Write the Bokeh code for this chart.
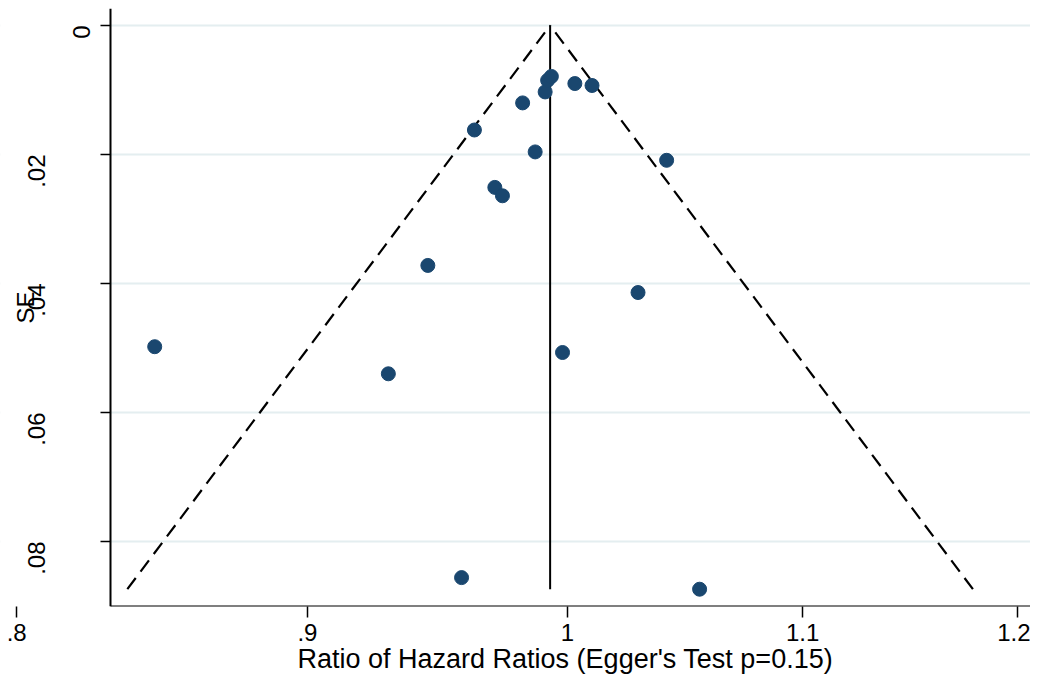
import numpy as np
from bokeh.plotting import figure
from bokeh.models import (Range1d, FixedTicker, CustomJSTickFormatter, LinearAxis,
                          LogAxis, BoxAnnotation, ColumnDataSource, Title)
from bokeh.embed import file_html
from bokeh.resources import INLINE

# --- data ---
ratio_hr = [0.846, 0.930, 0.945, 0.958, 0.963, 0.971, 0.974, 0.982, 0.987,
            0.991, 0.992, 0.9935, 0.998, 1.003, 1.010, 1.029, 1.041, 1.055]
se = [0.0498, 0.0540, 0.0372, 0.0856, 0.0162, 0.0251, 0.0264, 0.0120, 0.0196,
      0.0103, 0.0085, 0.0079, 0.0507, 0.0090, 0.0093, 0.0414, 0.0209, 0.0874]
pooled = 0.993
x_ticks = [0.8, 0.9, 1.0, 1.1, 1.2]
y_ticks = [0, 0.02, 0.04, 0.06, 0.08]
x_title = "Ratio of Hazard Ratios (Egger's Test p=0.15)"
y_title = "SE"

FONT = "Liberation Sans"
NAVY = "#1a476f"

# plotted region
X_LO, X_HI = 0.79476, 1.20636      # whole frame (log axis)
X_AXIS_AT = 0.8310                 # where the y axis stands
Y_LO, Y_HI = 0.09008, -0.002636    # reversed SE axis

se_max = max(se)
lower = float(np.exp(np.log(pooled) - 1.96 * se_max))
upper = float(np.exp(np.log(pooled) + 1.96 * se_max))

p = figure(width=1030, height=684, output_backend="svg", toolbar_location=None,
           x_axis_type="log", y_axis_location=None,
           x_range=Range1d(X_LO, X_HI), y_range=Range1d(Y_LO, Y_HI),
           min_border_left=0, min_border_right=0, min_border_top=8,
           min_border_bottom=78)
p.outline_line_color = None
p.background_fill_color = "white"
p.border_fill_color = "white"

# grid
p.xgrid.visible = False
p.ygrid.ticker = FixedTicker(ticks=y_ticks)
p.ygrid.grid_line_color = "#e4eef0"
p.ygrid.grid_line_width = 2
# keep grid lines to the right of the y axis
p.add_layout(BoxAnnotation(right=X_AXIS_AT, level="underlay", fill_color="white",
                           fill_alpha=1, line_color=None))

# funnel limits
p.line([lower, pooled], [se_max, 0], line_color="black", line_width=2.2, line_dash="14 8")
p.line([upper, pooled], [se_max, 0], line_color="black", line_width=2.2, line_dash="14 8")
p.line([pooled, pooled], [0, se_max], line_color="black", line_width=2)

# studies
src = ColumnDataSource(dict(x=ratio_hr, y=se))
p.scatter("x", "y", source=src, size=14, fill_color=NAVY, line_color=NAVY)

# x axis: ticks & labels (line drawn separately from the y axis onwards)
xa = p.xaxis[0]
xa.ticker = FixedTicker(ticks=x_ticks)
xa.formatter = CustomJSTickFormatter(code="""
    let s = tick.toFixed(1);
    if (s.endsWith('.0')) s = s.slice(0, -2);
    if (s.startsWith('0.')) s = s.slice(1);
    return s;
""")
xa.major_label_text_font = FONT
xa.major_label_text_font_size = "24px"
xa.major_label_standoff = 6
xa.major_tick_out = 11
xa.major_tick_in = 0
xa.minor_tick_out = 0
xa.minor_tick_in = 0
xa.axis_line_color = None
xa.major_tick_line_width = 1.5
xa.major_tick_line_color = "black"
xa.major_label_text_color = "black"

# x axis line, spanning only the part right of the y axis
xline = LogAxis(fixed_location=Y_LO, bounds=(X_AXIS_AT, X_HI),
                ticker=FixedTicker(ticks=[]), axis_line_width=2,
                axis_line_color="black", major_tick_line_color=None,
                minor_tick_line_color=None, major_tick_out=0, minor_tick_out=0,
                major_label_text_font_size="0px")
p.add_layout(xline, "below")

# x axis title, centred under the drawn axis
p.add_layout(Title(text=x_title, align="left", offset=297, vertical_align="top",
                   standoff=0, text_font=FONT, text_font_style="normal",
                   text_font_size="27px", text_color="black"), "below")

# y axis standing at X_AXIS_AT
ya = LinearAxis(fixed_location=X_AXIS_AT)
ya.ticker = FixedTicker(ticks=y_ticks)
ya.formatter = CustomJSTickFormatter(code="""
    if (tick == 0) return '';
    let s = tick.toFixed(2);
    if (s.startsWith('0.')) s = s.slice(1);
    return s;
""")
ya.major_label_orientation = np.pi / 2
ya.axis_label = y_title
ya.axis_label_text_font = FONT
ya.axis_label_text_font_style = "normal"
ya.axis_label_text_font_size = "24px"
ya.axis_label_standoff = -22
ya.major_label_text_font = FONT
ya.major_label_text_font_size = "24px"
ya.major_label_standoff = 64
ya.major_tick_out = 10
ya.major_tick_in = 0
ya.minor_tick_out = 0
ya.minor_tick_in = 0
ya.axis_line_width = 2
ya.major_tick_line_width = 1.5
ya.axis_line_color = "black"
ya.major_tick_line_color = "black"
ya.major_label_text_color = "black"
ya.axis_label_text_color = "black"
p.add_layout(ya, "left")

# the "0" label sits closer to the axis in the reference
ya0 = LinearAxis(fixed_location=X_AXIS_AT)
ya0.ticker = FixedTicker(ticks=y_ticks[:1])
ya0.formatter = CustomJSTickFormatter(code="return String(tick);")
ya0.major_label_orientation = np.pi / 2
ya0.major_label_text_font = FONT
ya0.major_label_text_font_size = "24px"
ya0.major_label_text_color = "black"
ya0.major_label_standoff = 19
ya0.major_tick_out = 10
ya0.major_tick_in = 0
ya0.minor_tick_out = 0
ya0.minor_tick_in = 0
ya0.axis_line_color = None
ya0.major_tick_line_color = None
p.add_layout(ya0, "left")

open("out.html", "w").write(file_html(p, INLINE))
